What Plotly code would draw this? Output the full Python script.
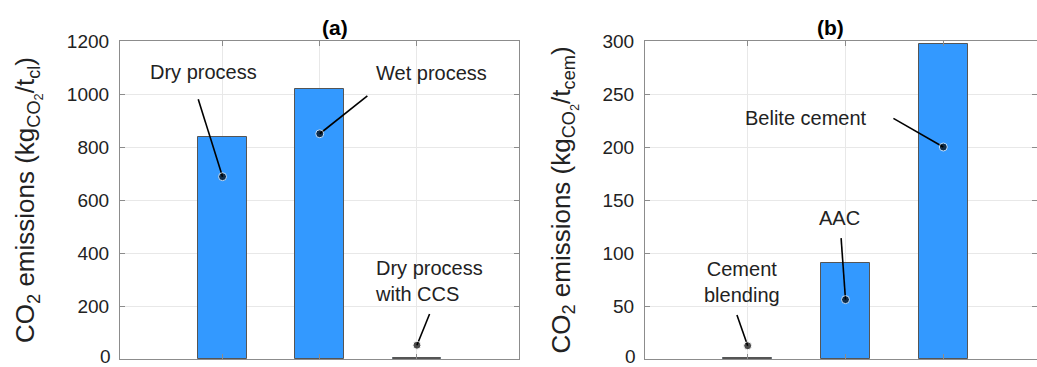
import plotly.graph_objects as go

# ---- data ----
cats_a = [1, 2, 3]
names_a = ["Dry process", "Wet process", "Dry process<br>with CCS"]
vals_a = [836, 1020, 3]

cats_b = [1, 2, 3]
names_b = ["Cement<br>blending", "AAC", "Belite cement"]
vals_b = [1, 91, 297]

yticks_a = [0, 200, 400, 600, 800, 1000, 1200]
yticks_b = [0, 50, 100, 150, 200, 250, 300]

# ---- annotation geometry (label anchor, leader start, dot) ----
dot_a = [(1, 688), (2, 850), (3, 52)]
lead_a = [(0.75, 980), (2.49, 993), (3.13, 170)]
lab_a = [(0.80, 1082, "center"), (3.15, 1080, "center"), (2.55, 293, "left")]

dot_b = [(1, 12.5), (2, 56), (3, 200)]
lead_b = [(0.89, 41.5), (1.955, 114), (2.49, 227)]
lab_b = [(0.94, 72.5, "center"), (1.94, 133, "center"), (1.60, 227, "center")]

FONT = "Liberation Sans, Arial, Helvetica, sans-serif"
BAR = "#3399ff"
GRID = "#e8e8e8"
AX = "#8c8c8c"
TXT = "#222222"

W, H = 1037, 367
top_m, bot_m = 41, 8
ph = H - top_m - bot_m

fig = go.Figure()

fig.add_trace(go.Bar(x=cats_a, y=vals_a, width=0.5, marker=dict(color=BAR, line=dict(color="#555555", width=1)),
                     xaxis="x", yaxis="y", showlegend=False))
fig.add_trace(go.Bar(x=cats_b, y=vals_b, width=0.5, marker=dict(color=BAR, line=dict(color="#555555", width=1)),
                     xaxis="x2", yaxis="y2", showlegend=False))

annotations = []
for (dots, leads, labs, names, xr, yr) in [(dot_a, lead_a, lab_a, names_a, "x", "y"),
                                            (dot_b, lead_b, lab_b, names_b, "x2", "y2")]:
    for (d, l, lb, nm) in zip(dots, leads, labs, names):
        fig.add_trace(go.Scatter(x=[l[0], d[0]], y=[l[1], d[1]], mode="lines+markers",
                                 line=dict(color="black", width=1.6),
                                 marker=dict(size=[0, 8], color="black"),
                                 xaxis=xr, yaxis=yr, showlegend=False, hoverinfo="skip"))
        annotations.append(dict(x=lb[0], y=lb[1], xref=xr, yref=yr, text=nm, showarrow=False,
                                xanchor=lb[2], yanchor="middle", align=lb[2],
                                font=dict(family=FONT, size=20, color=TXT)))

xa_l, xa_r = 120 / W, 519 / W
xb_l, xb_r = 645 / W, 1.0

title_y = (H - 28 - bot_m) / ph
annotations.append(dict(x=(xa_l + xa_r) / 2, y=title_y, xref="paper", yref="paper", text="<b>(a)</b>",
                        showarrow=False, yanchor="middle", font=dict(family=FONT, size=21, color="black")))
annotations.append(dict(x=(xb_l + 1046 / W) / 2, y=title_y, xref="paper", yref="paper", text="<b>(b)</b>",
                        showarrow=False, yanchor="middle", font=dict(family=FONT, size=21, color="black")))

# zero tick labels (drawn as text so they are not auto-hidden at the edge)
annotations.append(dict(x=(120 - 7) / W, y=yticks_a[0], xref="paper", yref="y", text=str(yticks_a[0]),
                        showarrow=False, xanchor="right", yanchor="middle", yshift=3,
                        font=dict(family=FONT, size=19, color=TXT)))
annotations.append(dict(x=(645 - 7) / W, y=yticks_b[0], xref="paper", yref="y2", text=str(yticks_b[0]),
                        showarrow=False, xanchor="right", yanchor="middle", yshift=3,
                        font=dict(family=FONT, size=19, color=TXT)))

common_x = dict(showgrid=True, gridcolor=GRID, gridwidth=1, tickvals=[1, 2, 3], ticktext=["", "", ""],
                ticks="inside", ticklen=5, tickcolor=AX, showline=True, linecolor=AX, linewidth=1.2,
                mirror="ticks", zeroline=False, fixedrange=True)
common_y = dict(showgrid=True, gridcolor=GRID, gridwidth=1, ticks="inside", ticklen=5, tickcolor=AX,
                showline=True, linecolor=AX, linewidth=1.2, mirror="ticks", zeroline=False,
                tickfont=dict(family=FONT, size=19, color=TXT), ticklabelstandoff=6)

title_font = dict(family=FONT, size=26, color=TXT)

fig.update_layout(
    width=W, height=H,
    margin=dict(l=0, r=0, t=top_m, b=bot_m, pad=0),
    paper_bgcolor="white", plot_bgcolor="white",
    bargap=0,
    xaxis=dict(domain=[xa_l, xa_r], range=[-0.055, 4.05], anchor="y", **common_x),
    yaxis=dict(domain=[0, 1], range=[0, 1200], tickvals=yticks_a[1:], anchor="x",
               title=dict(text="CO<sub>2</sub> emissions (kg<sub>CO<sub>2</sub></sub>/t<sub>cl</sub>)",
                          font=title_font, standoff=24), **common_y),
    xaxis2=dict(domain=[xb_l, xb_r], range=[-0.05, 3.958], anchor="y2", **common_x),
    yaxis2=dict(domain=[0, 1], range=[0, 300], tickvals=yticks_b[1:], anchor="x2",
                title=dict(text="CO<sub>2</sub> emissions (kg<sub>CO<sub>2</sub></sub>/t<sub>cem</sub>)",
                           font=title_font, standoff=24), **common_y),
    annotations=annotations,
)

fig.write_html("out.html")
